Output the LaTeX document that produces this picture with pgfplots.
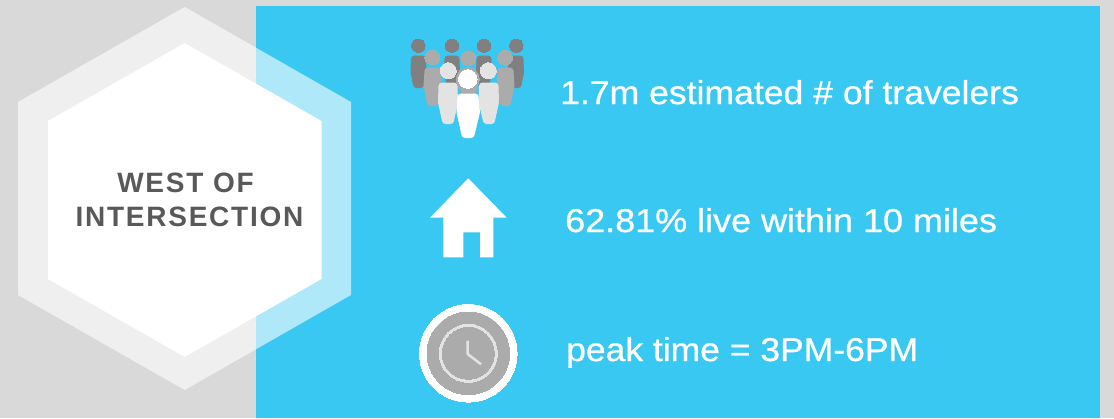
\documentclass[border=0pt]{standalone}
\usepackage{pgfplots}
\pgfplotsset{compat=1.18}
\usepackage{fontspec}
\setmainfont{Liberation Sans}
\definecolor{bggray}{HTML}{D9D9D9}
\definecolor{skyblue}{HTML}{38C8F2}
\definecolor{titletxt}{HTML}{595959}
\definecolor{pdark}{HTML}{808080}
\definecolor{pmid}{HTML}{ABABAB}
\definecolor{plight}{HTML}{E3E3E3}
\newcommand{\bodytext}[4]{\node[anchor=base west,inner sep=0pt,text=white,font=\fontsize{33}{33}\selectfont\addfontfeature{FakeBold=0.7,FakeStretch=#4}] at (axis cs:#1,#2) {#3};}
\pgfplotsset{
  dot/.style={only marks, mark=*, mark size=#1pt},
  person/.style={fill=#1, draw=#1, line width=7pt, line join=round},
}
\begin{document}
\begin{tikzpicture}
\begin{axis}[
  width=1114pt, height=418pt, scale only axis,
  xmin=0, xmax=1114, ymin=0, ymax=418, y dir=reverse,
  hide axis, clip mode=individual,
]
% background and panel
\addplot[fill=bggray, draw=none] coordinates {(0,0) (1114,0) (1114,418) (0,418)} --cycle;
\addplot[fill=skyblue, draw=none] coordinates {(255.5,6) (1100,6) (1100,418) (255.5,418)} --cycle;
% hexagons
\addplot[fill=white, fill opacity=0.6, draw=none] coordinates {(184.7,7) (351,102) (351,295) (184.7,390) (18,295) (18,102)} --cycle;
\addplot[fill=white, draw=none] coordinates {(184.7,43) (321.5,121) (321.5,279) (184.7,357) (48,279) (48,121)} --cycle;
% people, back row
\addplot[person=pdark] coordinates {(414.5,59) (422.5,59) (423,72) (420.5,84.5) (416.5,84.5) (414,72)} --cycle;
\addplot[person=pdark] coordinates {(448,59) (456,59) (456.5,72) (454,84.5) (450,84.5) (447.5,72)} --cycle;
\addplot[person=pdark] coordinates {(480,59) (488,59) (488.5,72) (486,84.5) (482,84.5) (479.5,72)} --cycle;
\addplot[person=pdark] coordinates {(512,59) (520,59) (520.5,72) (518,84.5) (514,84.5) (511.5,72)} --cycle;
\addplot[dot=6.7, mark options={fill=pdark, draw=pdark, line width=0pt}] coordinates {(418.3,45.7) (452,45.7) (484,45.7) (516.3,45.7)};
% second row
\addplot[person=pmid] coordinates {(428,71) (437,71) (438,86) (434.5,102.5) (430.5,102.5) (427,86)} --cycle;
\addplot[person=pmid] coordinates {(464,72) (473,72) (474,86) (470.5,102.5) (466.5,102.5) (463,86)} --cycle;
\addplot[person=pmid] coordinates {(501,71) (510,71) (511,86) (507.5,102.5) (503.5,102.5) (500,86)} --cycle;
\addplot[dot=7.5, mark options={fill=pmid, draw=pmid, line width=0pt}] coordinates {(432.3,57.3) (468.3,58.3) (505,57.7)};
% third row
\addplot[person=plight] coordinates {(442,86) (454,86) (454.5,102) (450.5,120.5) (445.5,120.5) (441.5,102)} --cycle;
\addplot[person=plight] coordinates {(482.5,86) (495,86) (495.5,102) (491.5,120.5) (486.5,120.5) (482,102)} --cycle;
\addplot[dot=8, mark options={fill=plight, draw=plight, line width=0pt}] coordinates {(448.3,70.7) (488.3,70.7)};
% front figure
\addplot[dot=11.5, mark options={fill=pmid, draw=pmid, line width=0pt}] coordinates {(467.7,79)};
\addplot[person=white] coordinates {(461,97) (475,97) (476.5,112) (471,134.5) (465,134.5) (460,112)} --cycle;
\addplot[dot=9.3, mark options={fill=white, draw=white, line width=0pt}] coordinates {(467.7,79)};
% house
\addplot[fill=white, draw=none] coordinates {(468.3,178.3) (506.7,217.7) (493.3,217.7) (493.3,257.3) (480,257.3) (480,232.3) (463.3,232.3) (463.3,257.3) (443.3,257.3) (443.3,217.7) (430,217.7)} --cycle;
% clock
\addplot[dot=48.8, mark options={fill=white, draw=white, line width=0pt}] coordinates {(468.3,353.3)};
\addplot[dot=41.3, mark options={fill=pmid, draw=pmid, line width=0pt}] coordinates {(468.3,353.3)};
\addplot[dot=29, mark options={fill=plight, draw=plight, line width=0pt}] coordinates {(468.3,353.3)};
\addplot[dot=26, mark options={fill=pmid, draw=pmid, line width=0pt}] coordinates {(468.3,353.3)};
\addplot[draw=plight, line width=2.5pt, line join=round] coordinates {(467.7,340.7) (467.7,354) (481,364.3)};
% title
\node[anchor=base,inner sep=0pt,text=titletxt,font=\fontsize{28}{28}\selectfont\bfseries\addfontfeature{LetterSpace=6.3}] at (axis cs:185.5,192) {WEST OF};
\node[anchor=base,inner sep=0pt,text=titletxt,font=\fontsize{28}{28}\selectfont\bfseries\addfontfeature{LetterSpace=6.3}] at (axis cs:189.5,226) {INTERSECTION};
% text lines
\bodytext{560}{104}{1.7m estimated \# of travelers}{1.078}
\bodytext{565}{232}{62.81\% live within 10 miles}{1.09}
\bodytext{566}{361}{peak time = 3PM-6PM}{1.075}
\end{axis}
\end{tikzpicture}
\end{document}
